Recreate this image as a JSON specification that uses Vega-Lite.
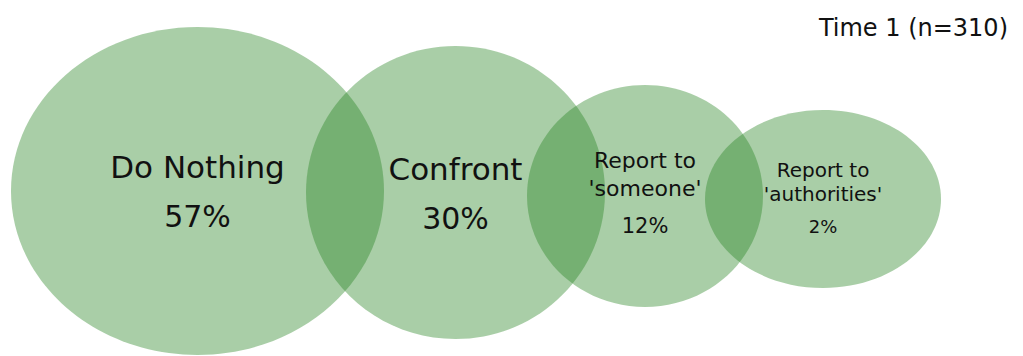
{
  "$schema": "https://vega.github.io/schema/vega-lite/v6.json",
  "width": 1023,
  "height": 356,
  "padding": 0,
  "autosize": {"type": "none"},
  "background": "white",
  "config": {"view": {"stroke": null}},
  "title": {
    "text": "Time 1 (n=310)",
    "anchor": "end",
    "frame": "group",
    "orient": "top",
    "offset": -60,
    "baseline": "alphabetic",
    "dx": -15,
    "font": "DejaVu Sans",
    "fontSize": 24,
    "fontWeight": "normal",
    "color": "#111111"
  },
  "data": {
    "values": [
      {"cat": "Do Nothing", "name": "Do Nothing", "pct": "57%", "x": 197.5, "y": 191},
      {"cat": "Confront", "name": "Confront", "pct": "30%", "x": 455.5, "y": 192.5},
      {"cat": "Report to 'someone'", "name": "Report to\n'someone'", "pct": "12%", "x": 645, "y": 196},
      {"cat": "Report to 'authorities'", "name": "Report to\n'authorities'", "pct": "2%", "x": 823, "y": 199}
    ]
  },
  "encoding": {
    "x": {"field": "x", "type": "quantitative", "scale": {"domain": [0, 1023], "nice": false, "zero": false}, "axis": null},
    "y": {"field": "y", "type": "quantitative", "scale": {"domain": [0, 356], "nice": false, "zero": false, "reverse": true}, "axis": null}
  },
  "layer": [
    {
      "mark": {"type": "point", "filled": true, "opacity": 0.4, "color": "#288523", "strokeWidth": 0},
      "encoding": {
        "size": {
          "field": "cat", "type": "ordinal", "legend": null,
          "scale": {"type": "ordinal", "domain": ["Do Nothing", "Confront", "Report to 'someone'", "Report to 'authorities'"], "range": [139129, 89401, 55696, 55696]}
        },
        "shape": {
          "field": "cat", "type": "nominal", "legend": null,
          "scale": {"domain": ["Do Nothing", "Confront", "Report to 'someone'", "Report to 'authorities'"],
            "range": [
              "M -1 0 A 1 0.879 0 1 1 1 0 A 1 0.879 0 1 1 -1 0 Z",
              "M -1 0 A 1 0.98 0 1 1 1 0 A 1 0.98 0 1 1 -1 0 Z",
              "M -1 0 A 1 0.94 0 1 1 1 0 A 1 0.94 0 1 1 -1 0 Z",
              "M -1 0 A 1 0.754 0 1 1 1 0 A 1 0.754 0 1 1 -1 0 Z"
            ]}
        }
      }
    },
    {
      "transform": [{"filter": {"field": "cat", "oneOf": ["Do Nothing", "Confront"]}}],
      "mark": {"type": "text", "font": "DejaVu Sans", "fontSize": 31, "color": "#111111", "baseline": "alphabetic", "align": "center", "dy": -13},
      "encoding": {"text": {"field": "name"}}
    },
    {
      "transform": [{"filter": {"field": "cat", "oneOf": ["Do Nothing", "Confront"]}}],
      "mark": {"type": "text", "font": "DejaVu Sans", "fontSize": 30, "color": "#111111", "baseline": "alphabetic", "align": "center", "dy": 36},
      "encoding": {"text": {"field": "pct"}}
    },
    {
      "transform": [{"filter": {"field": "cat", "equal": "Report to 'someone'"}}],
      "mark": {"type": "text", "font": "DejaVu Sans", "fontSize": 22, "color": "#111111", "baseline": "alphabetic", "align": "center", "dy": -28, "lineBreak": "\n", "lineHeight": 28},
      "encoding": {"text": {"field": "name"}}
    },
    {
      "transform": [{"filter": {"field": "cat", "equal": "Report to 'someone'"}}],
      "mark": {"type": "text", "font": "DejaVu Sans", "fontSize": 21, "color": "#111111", "baseline": "alphabetic", "align": "center", "dy": 37},
      "encoding": {"text": {"field": "pct"}}
    },
    {
      "transform": [{"filter": {"field": "cat", "equal": "Report to 'authorities'"}}],
      "mark": {"type": "text", "font": "DejaVu Sans", "fontSize": 20, "color": "#111111", "baseline": "alphabetic", "align": "center", "dy": -22, "lineBreak": "\n", "lineHeight": 24},
      "encoding": {"text": {"field": "name"}}
    },
    {
      "transform": [{"filter": {"field": "cat", "equal": "Report to 'authorities'"}}],
      "mark": {"type": "text", "font": "DejaVu Sans", "fontSize": 18, "color": "#111111", "baseline": "alphabetic", "align": "center", "dy": 34},
      "encoding": {"text": {"field": "pct"}}
    }
  ]
}
